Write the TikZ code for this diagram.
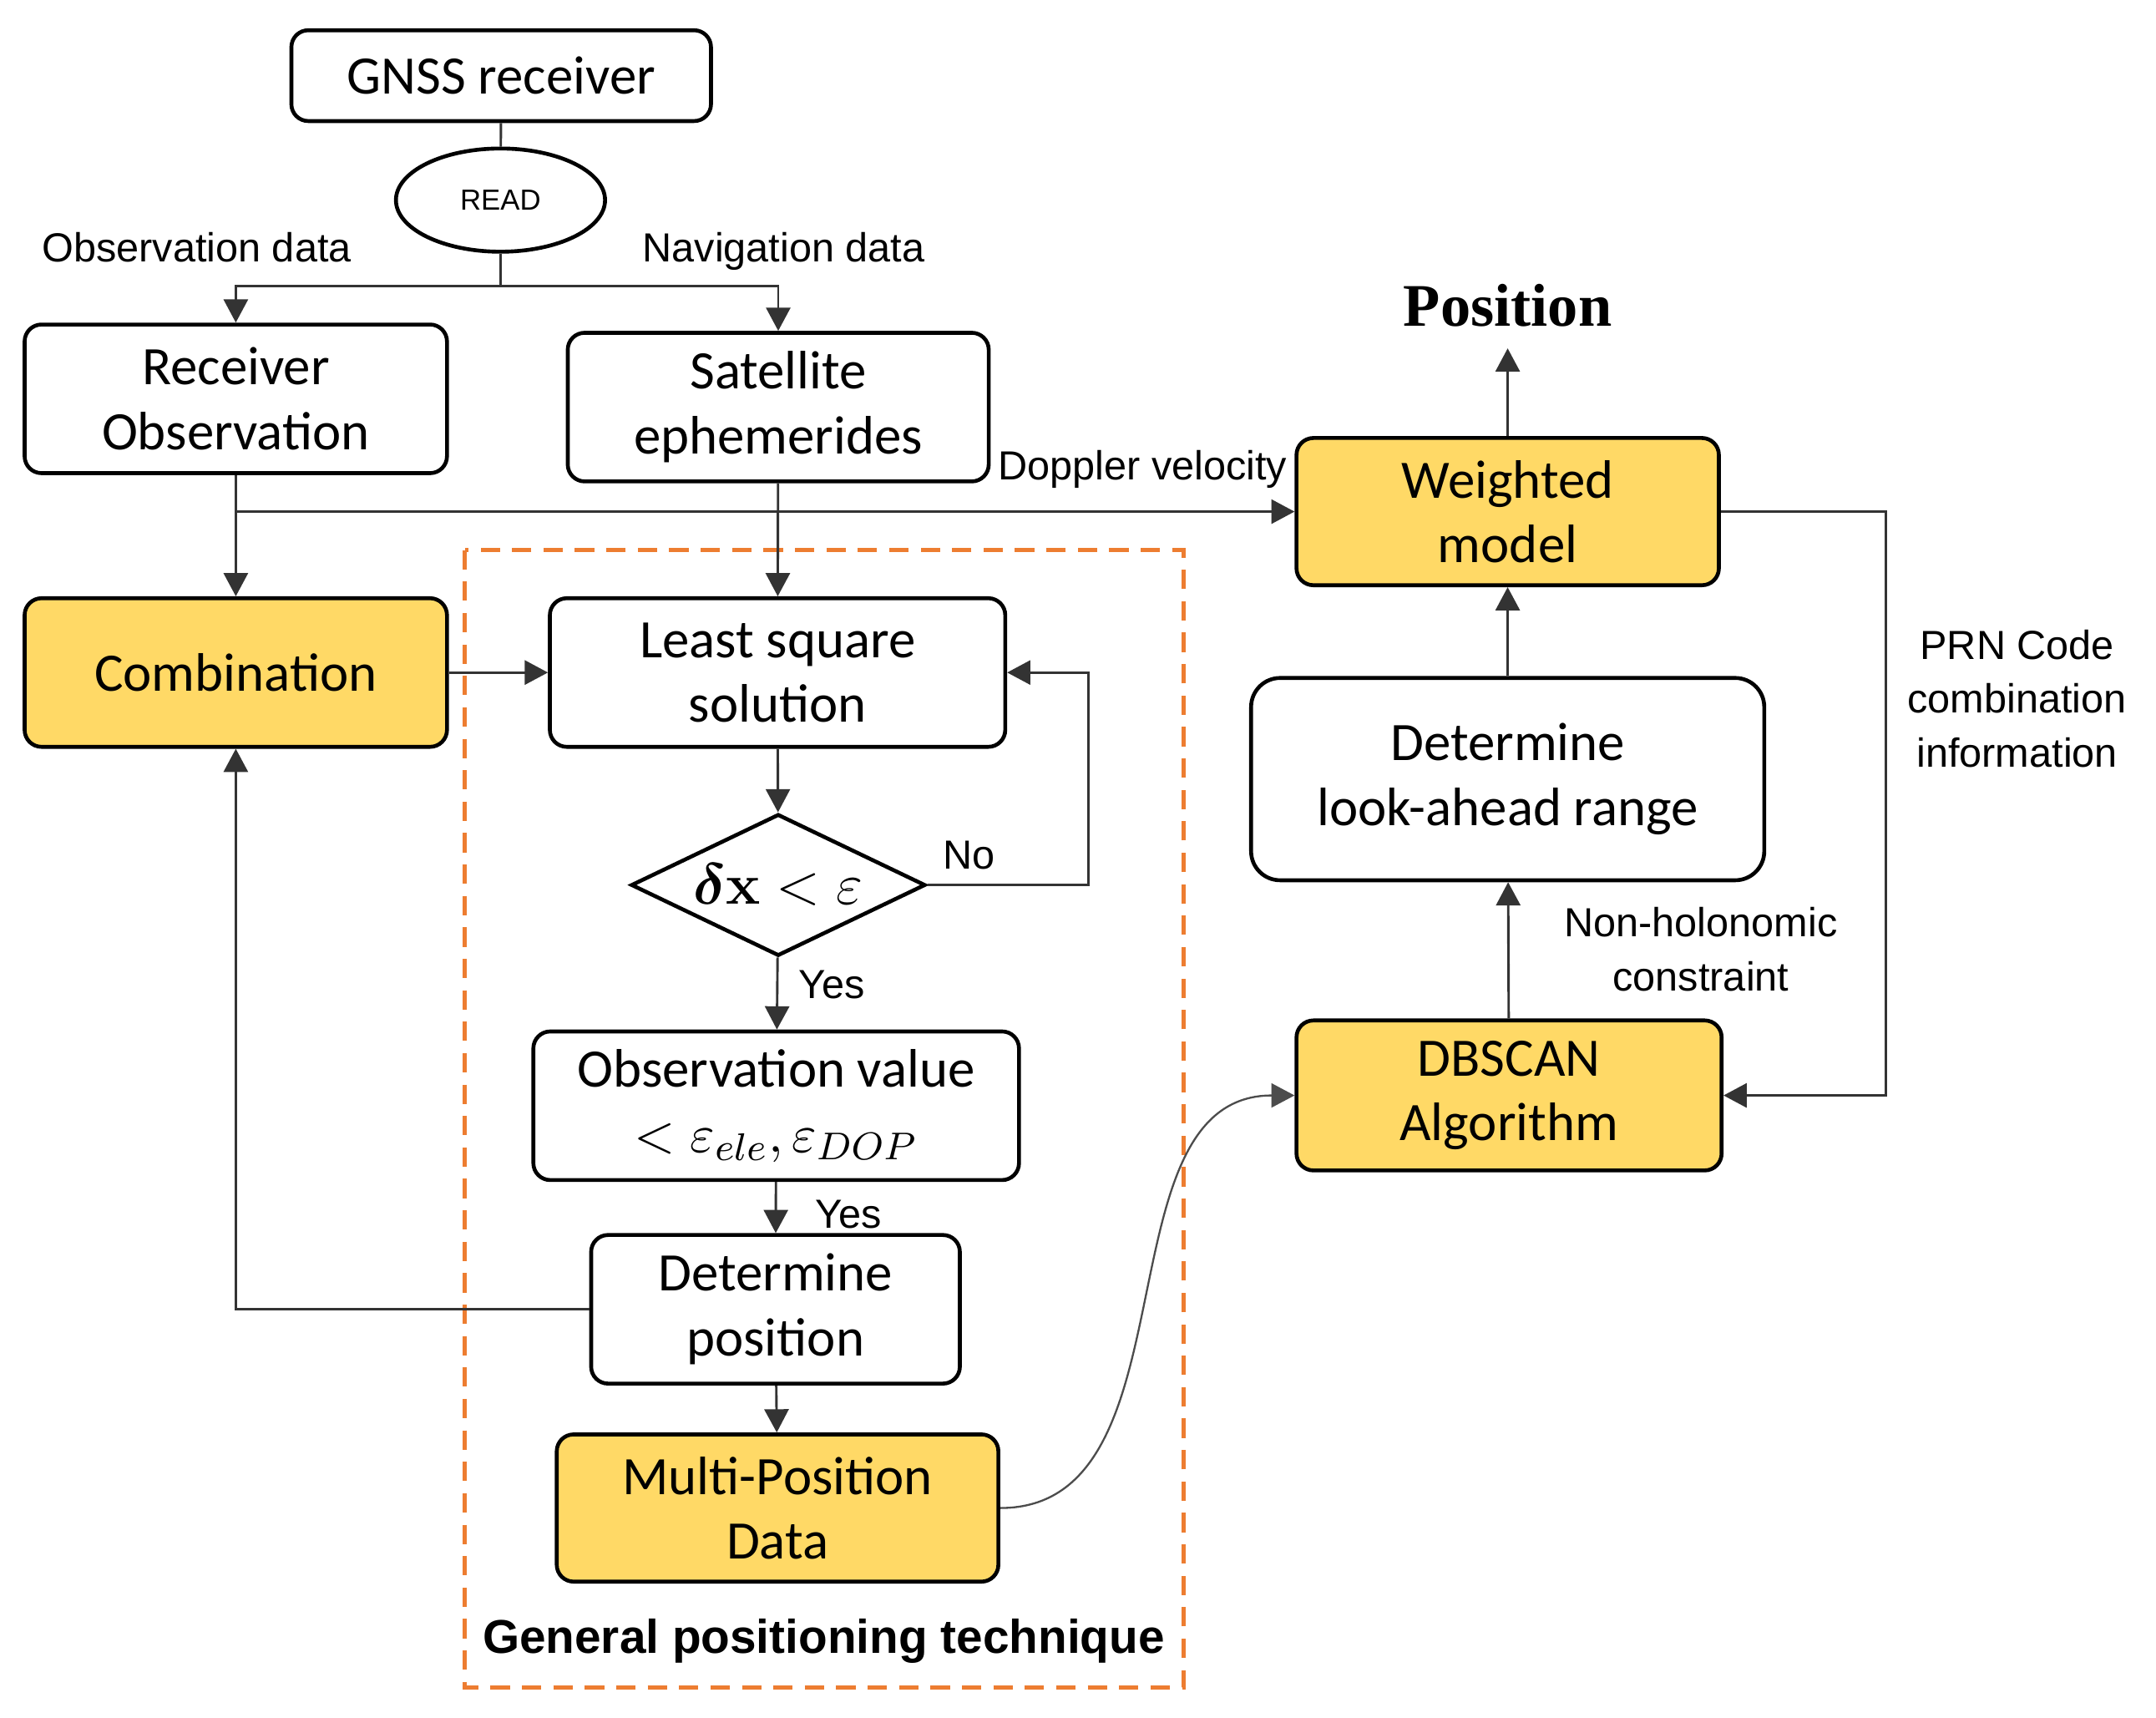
\documentclass[tikz,border=0pt]{standalone}
\usepackage[no-math]{fontspec}
\usepackage{amsmath,bm}
\setmainfont{Carlito}
\newfontfamily\labelfont{Liberation Sans}
\newfontfamily\headfont{Liberation Serif}
\usetikzlibrary{shapes.geometric,arrows.meta}
\definecolor{boxyellow}{HTML}{FFD966}
\definecolor{frameorange}{HTML}{ED7D31}

\begin{document}
\begin{tikzpicture}
    [x=0.01cm, y=-0.01cm,
     block/.style={draw, line width=0.8pt, rounded corners=3.5pt, align=center,
       inner sep=0pt, font=\fontsize{11.2}{13.4}\selectfont},
     hot/.style={block, fill=boxyellow},
     tag/.style={inner sep=0pt, align=center,
       font=\labelfont\fontsize{8.4}{11.2}\selectfont},
     link/.style={line width=0.5pt, black!80},
     arr/.style={link, -{Triangle[length=4.8pt, width=5pt]}}]
    \useasboundingbox (0,0) rectangle (1568,1248.6);
    % receiver side
    \node[block, minimum width=3.05cm, minimum height=0.66cm] (gnss) at (364.5,55) {GNSS receiver};
    \node[ellipse, draw, line width=0.8pt, minimum width=1.52cm, minimum height=0.75cm,
      inner sep=0pt, font=\labelfont\fontsize{6}{7}\selectfont] (read) at (364,145.5) {READ};
    \coordinate (split) at (364,208);
    \node[block, minimum width=3.07cm, minimum height=1.08cm] (recv) at (171.5,290) {Receiver\\Observation};
    \node[block, minimum width=3.06cm, minimum height=1.08cm] (sat) at (566,296) {Satellite\\ephemerides};
    \node[tag] (obslbl) at (143,180) {Observation data};
    \node[tag] (navlbl) at (570,183) {Navigation data};
    \node[hot, minimum width=3.07cm, minimum height=1.08cm] (comb) at (171.5,489) {Combination};
    \coordinate (dopp) at (171.5,372);
    % general positioning technique
    \draw[frameorange, dashed, dash pattern=on 4pt off 2.5pt, line width=0.8pt]
      (338,400) rectangle (861,1227);
    \node[font=\labelfont\bfseries\fontsize{9.8}{12}\selectfont, inner sep=0pt] (gptlbl)
      at (599,1193) {General positioning technique};
    \node[block, minimum width=3.31cm, minimum height=1.08cm] (lsq) at (565.5,489) {Least square\\solution};
    \node[diamond, draw, line width=0.8pt, aspect=2, inner sep=0pt, minimum width=2.14cm,
      minimum height=1.03cm, font=\fontsize{11.5}{13}\selectfont] (cond) at (566,643.5)
      {$\bm{\delta}\mathbf{x}<\varepsilon$};
    \node[block, minimum width=3.53cm, minimum height=1.08cm] (obsv) at (564.5,804)
      {Observation value\\$<\varepsilon_{ele},\varepsilon_{DOP}$};
    \node[block, minimum width=2.68cm, minimum height=1.08cm] (detpos) at (564,952) {Determine\\position};
    \node[hot, minimum width=3.21cm, minimum height=1.07cm] (multi) at (565.5,1096.5) {Multi-Position\\Data};
    \node[tag] (nolbl) at (705,622) {No};
    \node[tag] (yes1) at (605,716) {Yes};
    \node[tag] (yes2) at (617,883) {Yes};
    % right column
    \node[hot, minimum width=3.07cm, minimum height=1.07cm] (weight) at (1096.5,372) {Weighted\\model};
    \node[font=\headfont\bfseries\fontsize{12.5}{15}\selectfont, inner xsep=0pt, inner ysep=4.3pt]
      (posn) at (1096.5,222) {Position};
    \node[block, rounded corners=6pt, minimum width=3.73cm, minimum height=1.47cm] (look)
      at (1096.5,566.5) {Determine\\look-ahead range};
    \node[hot, minimum width=3.09cm, minimum height=1.09cm] (dbscan) at (1097.5,796.5) {DBSCAN\\Algorithm};
    \node[tag] (doplbl) at (831,341) {Doppler velocity};
    \node[tag] (nhlbl) at (1237,690) {Non-holonomic\\constraint};
    \node[tag] (prnlbl) at (1467,508) {PRN Code\\combination\\information};
    % connectors
    \draw[link] (gnss) -- (read);
    \draw[link] (read) -- (split);
    \draw[arr] (split) -| (recv);
    \draw[arr] (split) -| (sat);
    \draw[arr] (recv) -- (comb);
    \draw[arr] (dopp) -- (weight);
    \draw[arr] (sat) -- (lsq);
    \draw[arr] (comb) -- (lsq);
    \draw[arr] (lsq) -- (cond);
    \draw[arr] (cond.east) -- ++(117,0) |- (lsq.east);
    \draw[arr] (cond) -- (obsv);
    \draw[arr] (obsv) -- (detpos);
    \draw[arr] (detpos.west) -| (comb.south);
    \draw[arr] (detpos) -- (multi);
    \draw[arr, black!70, line width=0.4pt] (multi.east) to[out=0, in=180] (dbscan.west);
    \draw[arr] (weight) -- (posn);
    \draw[arr] (look) -- (weight);
    \draw[arr] (dbscan) -- (look);
    \draw[arr] (weight.east) -- ++(120,0) |- (dbscan.east);
\end{tikzpicture}
\end{document}
